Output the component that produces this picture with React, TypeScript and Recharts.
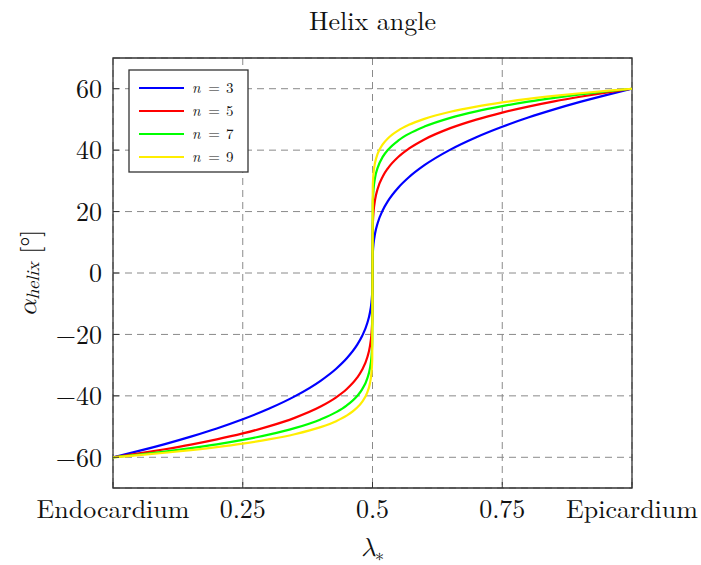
import React from 'react';
import { LineChart, Line, XAxis, YAxis, CartesianGrid, ReferenceArea } from 'recharts';

const lambdaValues = [
  0, 0.05, 0.1, 0.15, 0.2, 0.25, 0.3, 0.35, 0.4, 0.43, 0.45, 0.47, 0.48, 0.49, 0.495, 0.498, 0.499, 0.4995,
  0.5,
  0.5005, 0.501, 0.502, 0.505, 0.51, 0.52, 0.53, 0.55, 0.57, 0.6, 0.65, 0.7, 0.75, 0.8, 0.85, 0.9, 0.95, 1,
];

const helixN3 = [
  -60, -57.93, -55.7, -53.27, -50.61, -47.62, -44.21, -40.17, -35.09, -31.16, -27.85, -23.49, -20.52, -16.29, -12.93, -9.52, -7.56, -6.0,
  0,
  6.0, 7.56, 9.52, 12.93, 16.29, 20.52, 23.49, 27.85, 31.16, 35.09, 40.17, 44.21, 47.62, 50.61, 53.27, 55.7, 57.93, 60,
];
const helixN5 = [
  -60, -58.75, -57.38, -55.87, -54.17, -52.23, -49.95, -47.16, -43.49, -40.49, -37.86, -34.18, -31.52, -27.44, -23.89, -19.89, -17.31, -15.07,
  0,
  15.07, 17.31, 19.89, 23.89, 27.44, 31.52, 34.18, 37.86, 40.49, 43.49, 47.16, 49.95, 52.23, 54.17, 55.87, 57.38, 58.75, 60,
];
const helixN7 = [
  -60, -59.1, -58.12, -57.02, -55.78, -54.34, -52.64, -50.52, -47.67, -45.31, -43.18, -40.14, -37.88, -34.31, -31.08, -27.26, -24.69, -22.37,
  0,
  22.37, 24.69, 27.26, 31.08, 34.31, 37.88, 40.14, 43.18, 45.31, 47.67, 50.52, 52.64, 54.34, 55.78, 57.02, 58.12, 59.1, 60,
];
const helixN9 = [
  -60, -59.3, -58.53, -57.67, -56.69, -55.55, -54.19, -52.49, -50.18, -48.23, -46.46, -43.89, -41.96, -38.85, -35.97, -32.49, -30.08, -27.85,
  0,
  27.85, 30.08, 32.49, 35.97, 38.85, 41.96, 43.89, 46.46, 48.23, 50.18, 52.49, 54.19, 55.55, 56.69, 57.67, 58.53, 59.3, 60,
];

const xTickValues = [0, 0.25, 0.5, 0.75, 1];
const xTickLabels = ['Endocardium', '0.25', '0.5', '0.75', 'Epicardium'];
const yTickValues = [-60, -40, -20, 0, 20, 40, 60];

const seriesKeys = ['n3', 'n5', 'n7', 'n9'];
const seriesLabels = ['3', '5', '7', '9'];
const seriesColors = ['#0000ff', '#ff0000', '#00ff00', '#ffee00'];

const data = lambdaValues.map((x, i) => ({
  x,
  n3: helixN3[i],
  n5: helixN5[i],
  n7: helixN7[i],
  n9: helixN9[i],
}));

const FONT = '"Latin Modern Roman", "Liberation Serif", serif';
const MATH = '"Latin Modern Math", "Latin Modern Roman", "Liberation Serif", serif';

const fmtY = (v: number) => (v < 0 ? '\u2212' + Math.abs(v) : String(v));
const fmtX = (v: number) => {
  const i = xTickValues.indexOf(v);
  return i >= 0 ? xTickLabels[i] : String(v);
};

const YLabel = (props: any) => {
  const vb = props.viewBox || {};
  const cx = 28;
  const cy = (vb.y ?? 58) + (vb.height ?? 430) / 2;
  return (
    <text
      x={cx}
      y={cy}
      transform={`rotate(-90, ${cx}, ${cy})`}
      textAnchor="middle"
      dominantBaseline="central"
      fontFamily={MATH}
      fontSize={26}
      fill="#111"
    >
      <tspan fontStyle="italic">α</tspan>
      <tspan fontStyle="italic" fontSize={18} dy={5}>helix</tspan>
      <tspan dy={-5} fontFamily={FONT}>{'   [°]'}</tspan>
    </text>
  );
};

const XLabel = (props: any) => {
  const vb = props.viewBox || {};
  const cx = (vb.x ?? 113) + (vb.width ?? 519) / 2;
  return (
    <text x={cx} y={556} textAnchor="middle" fontFamily={MATH} fontSize={26} fill="#111">
      <tspan fontStyle="italic">λ</tspan>
      <tspan fontSize={18} dy={5}>∗</tspan>
    </text>
  );
};

export default function App() {
  return (
    <div style={{ position: 'absolute', left: 0, top: 0, width: 701, height: 565, background: '#fff' }}>
      <div
        style={{
          position: 'absolute',
          left: 113,
          width: 519,
          top: 1,
          textAlign: 'center',
          fontFamily: FONT,
          fontSize: 26,
          color: '#111',
        }}
      >
        Helix angle
      </div>
      <LineChart
        width={701}
        height={565}
        data={data}
        margin={{ top: 58, right: 69, bottom: 0, left: 0 }}
        style={{ position: 'absolute', left: 0, top: 0 }}
      >
        <CartesianGrid strokeDasharray="7 5" stroke="#8a8a8a" strokeWidth={1} />
        <XAxis
          type="number"
          dataKey="x"
          domain={[0, 1]}
          ticks={xTickValues}
          tickFormatter={fmtX}
          interval={0}
          axisLine={false}
          tickLine={{ stroke: '#333' }}
          tickSize={-6}
          tickMargin={18}
          height={77}
          tick={{ fontFamily: FONT, fontSize: 26, fill: '#111' }}
          label={<XLabel />}
        />
        <YAxis
          type="number"
          domain={[-70, 70]}
          ticks={yTickValues}
          tickFormatter={fmtY}
          interval={0}
          axisLine={false}
          tickLine={{ stroke: '#333' }}
          tickSize={-6}
          tickMargin={17}
          width={113}
          tick={{ fontFamily: FONT, fontSize: 26, fill: '#111' }}
          label={<YLabel />}
        />
        {seriesKeys.map((k, i) => (
          <Line
            key={k}
            type="monotone"
            dataKey={k}
            stroke={seriesColors[i]}
            strokeWidth={2.2}
            dot={false}
            activeDot={false}
            isAnimationActive={false}
          />
        ))}
        <ReferenceArea x1={0} x2={1} y1={-70} y2={70} fill="none" stroke="#333" strokeWidth={1.3} ifOverflow="visible" />
      </LineChart>
      <svg width={122} height={106} style={{ position: 'absolute', left: 128, top: 69 }}>
        <rect x={1} y={1} width={119} height={102} fill="#fff" stroke="#333" strokeWidth={1.3} />
        {seriesKeys.map((k, i) => {
          const cy = 19 + i * 23;
          return (
            <g key={k}>
              <line x1={11} x2={56} y1={cy} y2={cy} stroke={seriesColors[i]} strokeWidth={2.2} />
              <text x={64} y={cy + 5} fontFamily={FONT} fontSize={15} fontStyle="italic" fill="#111">n</text>
              <text x={86} y={cy + 5} fontFamily={FONT} fontSize={15} textAnchor="middle" fill="#111">=</text>
              <text x={98} y={cy + 5} fontFamily={FONT} fontSize={15} fill="#111">{seriesLabels[i]}</text>
            </g>
          );
        })}
      </svg>
    </div>
  );
}
